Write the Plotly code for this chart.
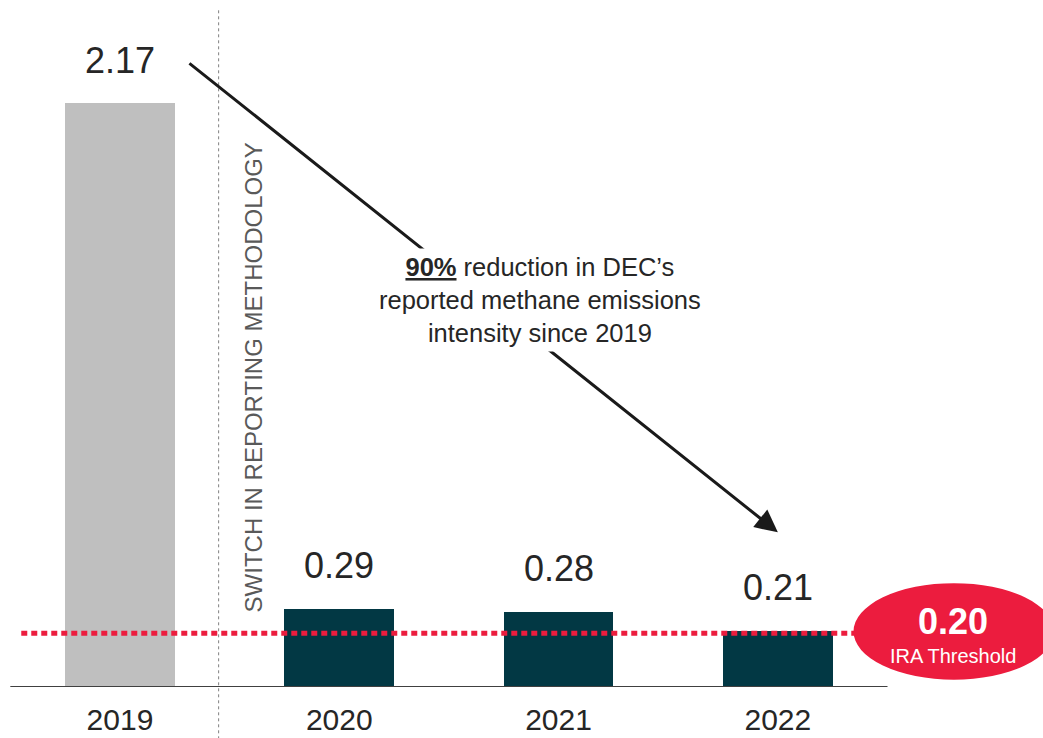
import plotly.graph_objects as go

# Methane emissions intensity by year
years = ["2019", "2020", "2021", "2022"]
intensity = [2.17, 0.29, 0.28, 0.21]
bar_colors = ["#BFBFBF", "#023844", "#023844", "#023844"]
ira_threshold = 0.20
reduction_pct = 90

FONT = "Arial, Liberation Sans, sans-serif"
TEXT = "#262626"
RED = "#EC1C3E"

xpos = list(range(len(years)))

fig = go.Figure()
fig.add_trace(go.Bar(
    x=xpos, y=intensity, width=0.5,
    marker=dict(color=bar_colors, line=dict(width=0)),
    hoverinfo="skip",
))

# value labels above bars
for xi, v in zip(xpos, intensity):
    fig.add_annotation(x=xi, y=v, text=f"{v:.2f}", showarrow=False,
                       yanchor="middle", yshift=43,
                       font=dict(family=FONT, size=36, color=TEXT))

shapes = [
    # baseline
    dict(type="line", xref="x", yref="y", x0=-0.5, x1=3.5, y0=0, y1=0,
         line=dict(color="#404040", width=2)),
    # methodology switch divider
    dict(type="line", xref="x", yref="paper", x0=0.45, x1=0.45, y0=0.985, y1=-0.08,
         line=dict(color="#808080", width=1, dash="dot")),
    # IRA threshold line
    dict(type="line", xref="x", yref="y", x0=-0.45, x1=3.35,
         y0=ira_threshold, y1=ira_threshold,
         line=dict(color=RED, width=5, dash="6px,4px")),
    # threshold badge
    dict(type="circle", xref="x", yref="y", x0=3.345, x1=4.26, y0=0.027, y1=0.386,
         fillcolor=RED, line=dict(width=0)),
]
fig.update_layout(shapes=shapes)

fig.add_annotation(x=3.8, y=ira_threshold, text=f"<b>{ira_threshold:.2f}</b>",
                   showarrow=False, yshift=12,
                   font=dict(family=FONT, size=36, color="white"))
fig.add_annotation(x=3.8, y=ira_threshold, text="IRA Threshold",
                   showarrow=False, yshift=-23,
                   font=dict(family=FONT, size=20, color="white"))

# divider caption
fig.add_annotation(x=0.61, y=1.15, text="SWITCH IN REPORTING METHODOLOGY",
                   textangle=-90, showarrow=False,
                   font=dict(family=FONT, size=24, color="#595959"))

# reduction arrow from 2019 label to 2022 bar
fig.add_annotation(x=3.0, y=0.575, ax=0.31, ay=2.323, axref="x", ayref="y",
                   xref="x", yref="y", text="", showarrow=True,
                   arrowhead=2, arrowsize=1.5, arrowwidth=3,
                   arrowcolor="#1a1a1a", standoff=0)
fig.add_annotation(x=1.915, y=1.44,
                   text=(f"<b><u>{reduction_pct}%</u></b> reduction in DEC’s<br>"
                         "reported methane emissions<br>intensity since 2019"),
                   showarrow=False, bgcolor="white", borderpad=4,
                   font=dict(family=FONT, size=25.5, color=TEXT))

fig.update_xaxes(
    range=[-0.547, 4.209], tickmode="array", tickvals=xpos, ticktext=years,
    ticks="outside", ticklen=6, tickcolor="rgba(0,0,0,0)",
    tickfont=dict(family=FONT, size=30, color=TEXT),
    showgrid=False, zeroline=False, showline=False, fixedrange=True,
    automargin=False,
)
fig.update_yaxes(range=[0, 2.554], visible=False, showgrid=False, zeroline=False,
                 automargin=False)

fig.update_layout(
    width=1043, height=738,
    margin=dict(l=0, r=0, t=0, b=51),
    plot_bgcolor="white", paper_bgcolor="white",
    showlegend=False, bargap=0,
)

fig.write_html("out.html")
